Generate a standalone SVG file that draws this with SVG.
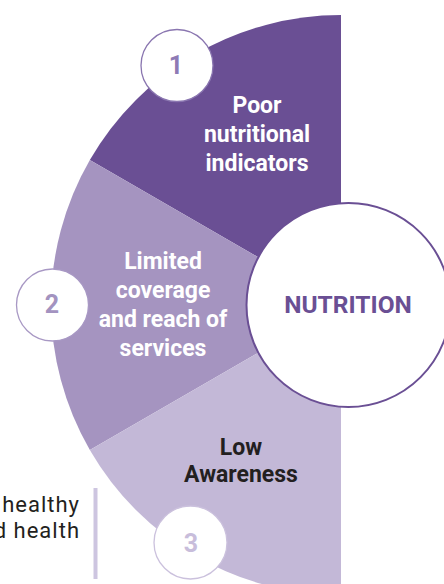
<svg xmlns="http://www.w3.org/2000/svg" width="444" height="584" viewBox="0 0 444 584">
<style>
.lbl{font-family:Roboto,"Liberation Sans",sans-serif;font-weight:700;font-size:23px;text-anchor:middle}
.num{font-family:Roboto,"Liberation Sans",sans-serif;font-weight:700;font-size:25px;text-anchor:middle}
.side{font-family:Roboto,"Liberation Sans",sans-serif;font-size:22px;letter-spacing:1px;fill:#231f20;text-anchor:end}
.badge{fill:#ffffff;stroke-width:1.3}
</style>
<rect width="444" height="584" fill="#ffffff"/>
<g id="side-text">
<text class="side" x="80" y="512">healthy</text>
<text class="side" x="80" y="538">d health</text>
<rect x="93.5" y="488" width="4" height="91" fill="#cdc5e0"/>
</g>
<g id="sector-1">
<path d="M341,305 L341,15 A290,290 0 0 0 89.85,160 Z" fill="#6a4f94"/>
<text class="lbl" fill="#ffffff" x="257" y="113">Poor</text>
<text class="lbl" fill="#ffffff" x="257" y="142">nutritional</text>
<text class="lbl" fill="#ffffff" x="257" y="171">indicators</text>
</g>
<g id="sector-2">
<path d="M341,305 L89.85,160 A290,290 0 0 0 89.85,450 Z" fill="#a594c0"/>
<text class="lbl" fill="#ffffff" x="163" y="269">Limited</text>
<text class="lbl" fill="#ffffff" x="163" y="298">coverage</text>
<text class="lbl" fill="#ffffff" x="163" y="327">and reach of</text>
<text class="lbl" fill="#ffffff" x="163" y="356">services</text>
</g>
<g id="sector-3">
<path d="M341,305 L89.85,450 A290,290 0 0 0 341,595 Z" fill="#c3b8d7"/>
<text class="lbl" fill="#231f20" x="241" y="455">Low</text>
<text class="lbl" fill="#231f20" x="241" y="482">Awareness</text>
</g>
<g id="badge-1">
<circle class="badge" cx="177" cy="65.5" r="36" stroke="#8a76b0"/>
<text class="num" fill="#8e7ab5" x="176" y="74">1</text>
</g>
<g id="badge-2">
<circle class="badge" cx="52.5" cy="305" r="36" stroke="#a898c4"/>
<text class="num" fill="#a393c0" x="52" y="313">2</text>
</g>
<g id="badge-3">
<circle class="badge" cx="190.5" cy="542.5" r="36.5" stroke="#cbc1dd"/>
<text class="num" fill="#c8bddb" x="191" y="551.5">3</text>
</g>
<g id="nutrition">
<circle cx="348.5" cy="305" r="102" fill="#ffffff" stroke="#6a4f94" stroke-width="2"/>
<text class="lbl" fill="#6a4f94" x="348" y="313" style="font-size:24.5px">NUTRITION</text>
</g>
<g id="connectors"></g>
</svg>
